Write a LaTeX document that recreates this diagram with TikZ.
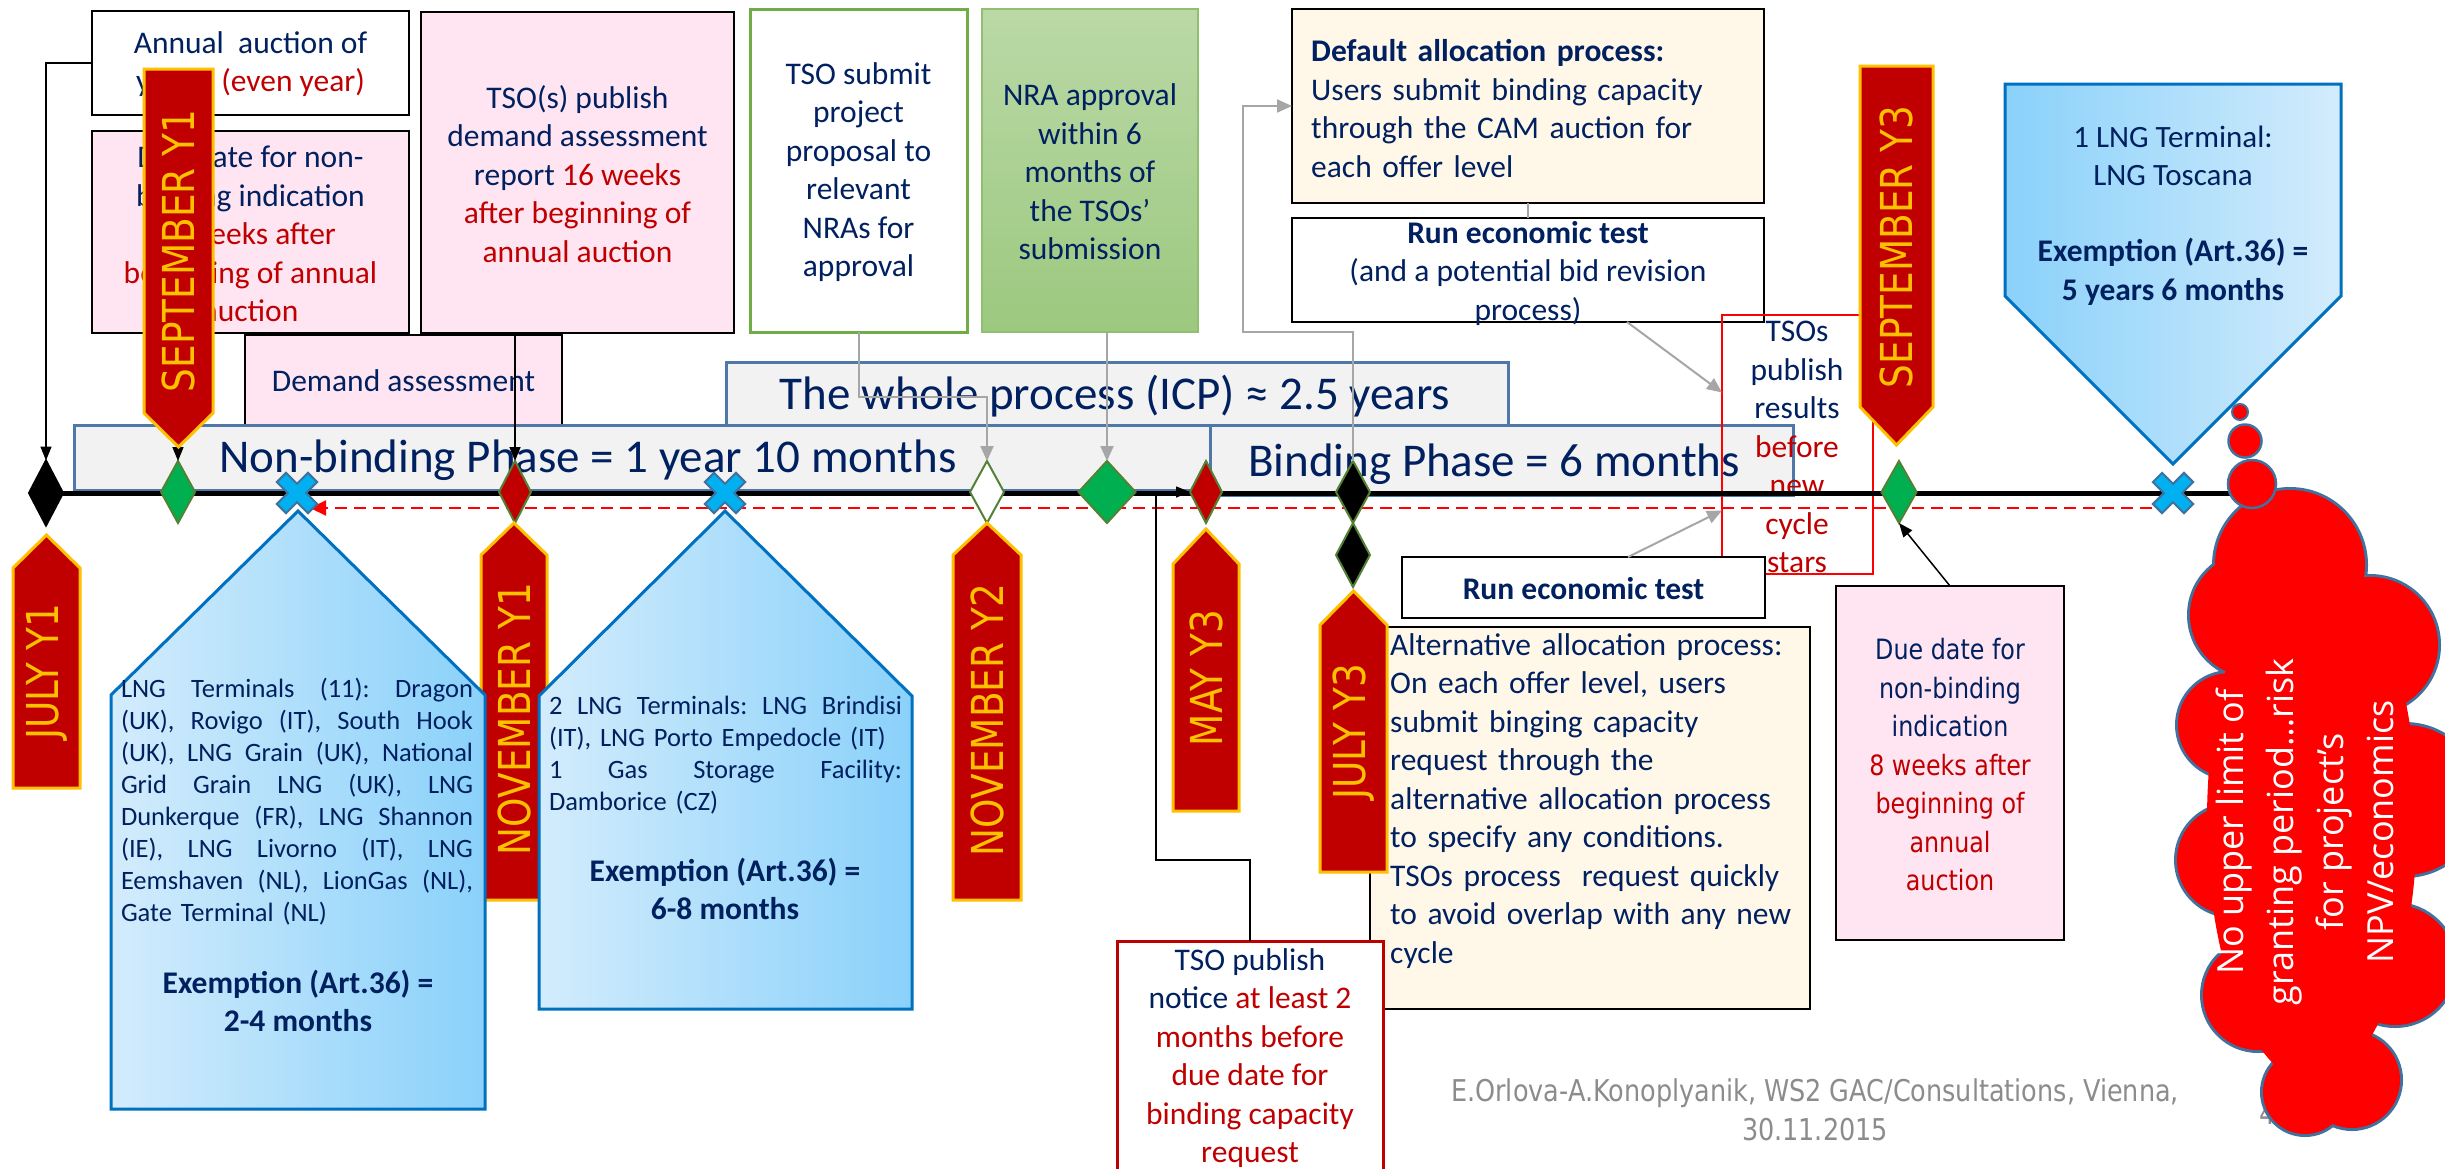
\documentclass[tikz,border=0pt]{standalone}
\usepackage{fontspec}
\setmainfont{Carlito}
\newfontfamily\tah[FakeStretch=0.85]{DejaVu Sans}
\newfontfamily\osans{Open Sans}
\usetikzlibrary{arrows.meta,shapes.geometric}
\definecolor{navy}{HTML}{002060}
\definecolor{dred}{HTML}{C00000}
\definecolor{pinkc}{HTML}{FFE5F1}
\definecolor{creamc}{HTML}{FFF8E8}
\definecolor{barfill}{HTML}{F2F2F2}
\definecolor{barline}{HTML}{4F77A8}
\definecolor{gold}{HTML}{FFC000}
\definecolor{dgreen}{HTML}{548235}
\definecolor{mgreen}{HTML}{00B050}
\definecolor{lgreen}{HTML}{70AD47}
\definecolor{nraline}{HTML}{8FC06F}
\definecolor{nra1}{HTML}{BAD9A6}
\definecolor{nra2}{HTML}{9CC87F}
\definecolor{xblue}{HTML}{00B0F0}
\definecolor{xline}{HTML}{41719C}
\definecolor{pline}{HTML}{0070C0}
\definecolor{pb1}{HTML}{D3ECFC}
\definecolor{pb2}{HTML}{8AD1FA}
\definecolor{gryc}{HTML}{A6A6A6}
\definecolor{footg}{HTML}{8C8C8C}
\newcommand\rd[1]{\textcolor{dred}{#1}}
\newcommand\jl[2]{\leavevmode\hbox to #1pt{#2}}
\newcommand\banner[8]{%
  \path[bannerbg] (#2-#3,#6) -- (#2-#3,#5) -- (#2,#4) -- (#2+#3,#5) -- (#2+#3,#6) -- cycle;
  \node[bantext] (#1) at (#2,#7) {#8};}
\newcommand\pent[8]{%
  \path[pentbg,#8] (#2,#7) -- (#2,#6) -- (#4,#5) -- (#3,#6) -- (#3,#7) -- cycle;
  \coordinate (#1) at (#4,#5);}
\newcommand\bluex[3]{%
  \coordinate (#1) at (#2,#3);
  \path[xstyle, shift={(#2,#3)}, rotate=45] (-6.5,-22) -- (6.5,-22) -- (6.5,-6.5) -- (22,-6.5) -- (22,6.5) -- (6.5,6.5) -- (6.5,22) -- (-6.5,22) -- (-6.5,6.5) -- (-22,6.5) -- (-22,-6.5) -- (-6.5,-6.5) -- cycle;}
\begin{document}
\begin{tikzpicture}[x=1pt,y=-1pt,
  rbox/.style={anchor=north west, inner sep=0, outer sep=0, rectangle},
  boxk/.style={draw=black, line width=2.5},
  txt/.style={text=navy, align=center, inner sep=0, font=\fontsize{31.5}{38.5}\selectfont},
  ttxt/.style={text=navy, align=center, inner sep=0, font=\tah\fontsize{28}{38.5}\selectfont},
  ptxt/.style={text=navy, align=left, inner sep=0, text width=353, font=\fontsize{26.5}{32}\selectfont},
  pbold/.style={text=navy, align=center, inner sep=0, font=\bfseries\fontsize{31.5}{37.5}\selectfont},
  bar/.style={fill=barfill, draw=barline, line width=3},
  bartxt/.style={text=navy, inner sep=0, font=\fontsize{47}{50}\selectfont},
  bannerbg/.style={fill=dred, draw=gold, line width=3},
  bantext/.style={text=gold, rotate=90, inner sep=0, font=\tah\fontsize{44}{44}\selectfont},
  pentbg/.style={draw=pline, line width=3},
  xstyle/.style={fill=xblue, draw=xline, line width=2},
  dia/.style={diamond, inner sep=0, outer sep=0, line width=2},
  blk/.style={draw=black, line width=1.5, -{Triangle[length=14pt,width=11pt]}},
  gyarr/.style={draw=gryc, line width=2, -{Triangle[length=15pt,width=13pt]}},
  gyline/.style={draw=gryc, line width=2},
  reddash/.style={draw=red, line width=2, dash pattern=on 12pt off 7pt, -{Triangle[length=16pt,width=15pt]}},
  foot/.style={text=footg, align=center, inner sep=0, font=\tah\fontsize{30}{39}\selectfont}]
\useasboundingbox (0,0) rectangle (2445,1168);
\fill[white] (0,0) rectangle (2445,1168);

% ---- top boxes
\node[rbox, boxk, fill=white, minimum width=317, minimum height=104] (annual) at (92,11) {};
\node[txt] (annualT) at (250.5,64) {Annual\ \ auction of\\year Y \rd{(even year)}};
\node[rbox, boxk, fill=pinkc, minimum width=317, minimum height=202] (due1) at (92,131) {};
\node[txt] (due1T) at (250.5,234) {Due date for non-\\binding indication\\\rd{8 weeks after}\\\rd{beginning of annual}\\\rd{auction}};
\node[rbox, boxk, fill=pinkc, minimum width=313, minimum height=321] (tsopub) at (421,12) {};
\node[txt] (tsopubT) at (577.5,174) {TSO(s) publish\\demand assessment\\report \rd{16 weeks}\\\rd{after beginning of}\\\rd{annual auction}};
\node[rbox, draw=black, line width=1.5, fill=pinkc, minimum width=317, minimum height=95] (demand) at (245,335) {};
\node[txt] (demandT) at (403.5,381) {Demand assessment};
\node[rbox, draw=lgreen, line width=3, fill=white, minimum width=217, minimum height=323] (tsosub) at (750,9) {};
\node[txt] (tsosubT) at (858.5,172) {TSO submit\\project\\proposal to\\relevant\\NRAs for\\approval};
\node[rbox, draw=nraline, line width=2, top color=nra1, bottom color=nra2, minimum width=216, minimum height=323] (nra) at (982,9) {};
\node[txt] (nraT) at (1090,172) {NRA approval\\within 6\\months of\\the TSOs’\\submission};
\node[rbox, boxk, fill=creamc, minimum width=472, minimum height=194] (default) at (1292,9) {};
\node[txt, align=left, anchor=west, text width=445] (defaultT) at (1311,108.5) {\textbf{Default allocation process:}\\Users submit binding capacity\\through the CAM auction for\\each offer level};
\node[rbox, boxk, fill=white, minimum width=472, minimum height=104] (run1) at (1292,218) {};
\node[txt] (run1T) at (1528,273) {\textbf{Run economic test}\\(and a potential bid revision\\process)};

% ---- bars
\node[rbox, bar, minimum width=782, minimum height=63] (icp) at (726,362) {};
\node[bartxt, anchor=base] (icpT) at (1115,409) {The whole process (ICP) ≈ 2.5 years};
\node[rbox, bar, minimum width=1136, minimum height=65] (nb) at (74,425) {};
\node[rbox, bar, minimum width=583, minimum height=70] (bp) at (1210,425) {};
\node[bartxt, anchor=base] (nbT) at (588,472) {Non-binding Phase = 1 year 10 months};
\node[bartxt, anchor=base] (bpT) at (1494,476) {Binding Phase = 6 months};

% ---- TSOs publish results
\node[rbox, draw=red, line width=2, minimum width=151, minimum height=259] (tsores) at (1722,315) {};
\node[txt] (tsoresT) at (1797,447) {TSOs\\publish\\results\\\rd{before}\\\rd{new}\\\rd{cycle}\\\rd{stars}};

% ---- lower boxes
\node[rbox, boxk, fill=white, minimum width=363, minimum height=61] (run2) at (1402,557) {};
\node[txt] (run2T) at (1583.5,589) {\textbf{Run economic test}};
\node[rbox, boxk, fill=creamc, minimum width=440, minimum height=382] (alt) at (1370,627) {};
\node[txt, align=left, anchor=west, text width=418] (altT) at (1390,801) {Alternative allocation process:\\On each offer level, users\\submit binging capacity\\request through the\\alternative allocation process\\to specify any conditions.\\TSOs process\ \ request quickly\\to avoid overlap with any new\\cycle};
\node[rbox, draw=dred, line width=3, fill=white, minimum width=266, minimum height=240] (notice) at (1117,941) {};
\node[txt] (noticeT) at (1250,1058) {TSO publish\\notice \rd{at least 2}\\\rd{months before}\\\rd{due date for}\\\rd{binding capacity}\\\rd{request}};
\node[rbox, boxk, fill=pinkc, minimum width=228, minimum height=354] (due2) at (1836,586) {};
\node[ttxt] (due2T) at (1950,765) {Due date for\\non-binding\\indication\\\rd{8 weeks after}\\\rd{beginning of}\\\rd{annual}\\\rd{auction}};

% ---- timeline
\coordinate (tlstart) at (46,493);
\coordinate (tlend) at (2290,493);
\draw[line width=5] (tlstart) -- (tlend);
\coordinate (dashS) at (2152,508);
\coordinate (dashE) at (310,508);
\draw[reddash] (dashS) -- (dashE);

% ---- diamonds
\node[dia, fill=black, draw=black, minimum width=34, minimum height=65] (d1) at (46,493) {};
\node[dia, fill=mgreen, draw=dgreen, minimum width=34, minimum height=62] (d2) at (178,492) {};
\node[dia, fill=dred, draw=dgreen, minimum width=32, minimum height=62] (d3) at (515,492) {};
\node[dia, fill=white, draw=dgreen, minimum width=34, minimum height=62] (d4) at (987,492) {};
\node[dia, fill=mgreen, draw=dgreen, minimum width=57, minimum height=62] (d5) at (1107,492) {};
\node[dia, fill=dred, draw=dgreen, minimum width=32, minimum height=62] (d6) at (1206,492) {};
\node[dia, fill=black, draw=dgreen, minimum width=34, minimum height=62] (d7) at (1353,492) {};
\node[dia, fill=black, draw=dgreen, minimum width=34, minimum height=64] (d7b) at (1353,555) {};
\node[dia, fill=mgreen, draw=dgreen, minimum width=35, minimum height=62] (d8) at (1899,492) {};

% ---- connectors
\draw[blk] (annual.west) -| (d1.north);
\draw[blk] (d2.north |- due1.south) -- (d2.north);
\draw[blk] (d3.north |- tsopub.south) -- (d3.north);
\draw[gyarr] (tsosub.south) -- ++(0,65) -| (d4.north);
\draw[gyarr] (d5.north |- nra.south) -- (d5.north);
\coordinate (k6) at (1243,332);
\draw[gyarr] (d7.north) |- (k6) |- (default.west);
\draw[gyline] (default.south) -- (run1.north);
\draw[gyarr] ([xshift=99pt]run1.south) -- ([yshift=52pt]tsores.west);
\draw[gyarr] ([xshift=44.5pt]run2.north) -- ([yshift=-66pt]tsores.west);
\draw[blk] (due2.north) -- (d8.south);
\coordinate (k11) at (1156,860);
\draw[blk] (notice.north) |- (k11) |- (d6.west);

% ---- blue crosses
\bluex{x1}{297}{493}
\bluex{x2}{725}{493}
\bluex{x3}{2173}{493}

% ---- date banners
\banner{julyY1}{46.5}{33.5}{535}{568}{788}{672}{JULY Y1}
\banner{sepY1}{178.5}{34.5}{447}{413}{69}{251}{SEPTEMBER Y1}
\banner{novY1}{514}{33}{523}{555}{900}{719}{NOVEMBER Y1}
\banner{novY2}{987}{34}{523}{555}{900}{720}{NOVEMBER Y2}
\banner{mayY3}{1206}{33}{529}{564}{811}{678}{MAY Y3}
\banner{julyY3}{1353.5}{33.5}{591}{625}{872}{732}{JULY Y3}
\banner{sepY3}{1896.5}{36.5}{445}{407}{66}{247}{SEPTEMBER Y3}

% ---- exemption callouts
\pent{p1}{111}{485}{298}{511}{695}{1109}{left color=pb1, right color=pb2}
\node[ptxt, text width=352] (p1list) at (297,802) {\jl{352}{LNG\hfill Terminals\hfill (11):\hfill Dragon}\\\jl{352}{(UK),\hfill Rovigo\hfill (IT),\hfill South\hfill Hook}\\\jl{352}{(UK),\hfill LNG\hfill Grain\hfill (UK),\hfill National}\\\jl{352}{Grid\hfill Grain\hfill LNG\hfill (UK),\hfill LNG}\\\jl{352}{Dunkerque\hfill (FR),\hfill LNG\hfill Shannon}\\\jl{352}{(IE),\hfill LNG\hfill Livorno\hfill (IT),\hfill LNG}\\\jl{352}{Eemshaven\hfill (NL),\hfill LionGas\hfill (NL),}\\Gate Terminal (NL)};
\node[pbold] (p1ex) at (298,1001) {Exemption (Art.36) =\\2-4 months};
\pent{p2}{539}{912}{725}{511}{696}{1009}{left color=pb1, right color=pb2}
\node[ptxt] (p2list) at (725.5,755) {\jl{353}{2\hfill LNG\hfill Terminals:\hfill LNG\hfill Brindisi}\\(IT), LNG Porto Empedocle (IT)\\\jl{353}{1\hfill Gas\hfill Storage\hfill Facility:}\\Damborice (CZ)};
\node[pbold] (p2ex) at (725,889) {Exemption (Art.36) =\\6-8 months};
\pent{p3}{2005}{2341}{2173}{464}{296}{84}{left color=pb2, right color=pb1}
\node[txt, font=\fontsize{31}{38.5}\selectfont] (p3list) at (2173,156) {1 LNG Terminal:\\LNG Toscana};
\node[pbold, font=\bfseries\fontsize{31.5}{39}\selectfont] (p3ex) at (2173,271.5) {Exemption (Art.36) =\\5 years 6 months};

% ---- footer
\node[foot] (footer) at (1815,1110) {E.Orlova-A.Konoplyanik, WS2 GAC/Consultations, Vienna,\\30.11.2015};
\node[foot] (pageno) at (2268,1114) {4};

% ---- cloud (union of puffs: outline first, fills on top)
\def\puffs{2290/565/75, 2370/645/68, 2405/800/75, 2395/965/60, 2352/1080/48, 2305/1092/42, 2258/995/55, 2232/860/55, 2230/725/52, 2252/615/62}
\foreach \cx/\cy/\rr in \puffs {\draw[xline, line width=6] (\cx,\cy) circle[radius=\rr];}
\foreach \cx/\cy/\rr in \puffs {\fill[red] (\cx,\cy) circle[radius=\rr];}
\fill[red] (2312,820) ellipse[x radius=105, y radius=262];
\coordinate (cloud) at (2312,820);
\node[circle, fill=red, draw=xline, line width=2.5, minimum size=48, inner sep=0] (bub3) at (2252,484) {};
\node[circle, fill=red, draw=xline, line width=2.5, minimum size=33, inner sep=0] (bub2) at (2245,441) {};
\node[circle, fill=red, draw=xline, line width=2, minimum size=16, inner sep=0] (bub1) at (2240,412) {};
\node[text=white, align=center, inner sep=0, rotate=90, font=\osans\fontsize{36}{50}\selectfont] (cloudT) at (2305,832) {No upper limit of\\granting period…risk\\for project’s\\NPV/economics};
\end{tikzpicture}
\end{document}
